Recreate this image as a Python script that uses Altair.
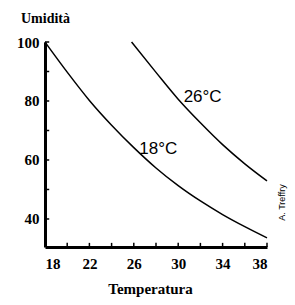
import altair as alt
import pandas as pd

temp_18 = [18, 20, 22, 24, 26, 28, 30, 32, 34, 36, 38]
hum_18 = [100, 89.8, 80.2, 71.8, 64.2, 57.3, 51.3, 46.1, 41.5, 37.4, 33.6]
temp_26 = [25.8, 28, 30, 32, 34, 36, 38]
hum_26 = [100, 89.7, 80.6, 72.6, 65.2, 58.7, 52.9]

x_ticks = [18, 20, 22, 24, 26, 28, 30, 32, 34, 36, 38]
y_ticks = [40, 50, 60, 70, 80, 90, 100]
x_labels = [18, 22, 26, 30, 34, 38]
y_labels = [40, 60, 80, 100]

curve_labels = ["18°C", "26°C"]
label_x = [28.2, 32.2]
label_y = [63.6, 81.3]

credit = "A. Treffry"

X_DOM = [18, 38]
Y_DOM = [30.5, 100]

rows = [{"t": t, "h": h, "s": "18"} for t, h in zip(temp_18, hum_18)]
rows += [{"t": t, "h": h, "s": "26"} for t, h in zip(temp_26, hum_26)]
df = pd.DataFrame(rows)

xs = alt.Scale(domain=X_DOM, nice=False, zero=False)
ys = alt.Scale(domain=Y_DOM, nice=False, zero=False)

serif = "Times New Roman"

x_axis = alt.Axis(values=x_labels, tickSize=0, labelPadding=9, labelFont=serif,
                  labelFontWeight="bold", labelFontSize=15, labelColor="black",
                  domainColor="black", domainWidth=3, grid=False,
                  title="Temperatura", titleFont=serif, titleFontWeight="bold",
                  titleFontSize=15, titleColor="black", titlePadding=10, titleX=105,
                  titleAlign="center")
y_axis = alt.Axis(values=y_labels, tickSize=0, labelPadding=6, labelFont=serif,
                  labelFontWeight="bold", labelFontSize=15, labelColor="black",
                  domainColor="black", domainWidth=3, grid=False,
                  title="Umidità", titleFont=serif, titleFontWeight="bold",
                  titleFontSize=14, titleColor="black", titleAngle=0,
                  titleX=0, titleY=-17, titleAlign="center", titleBaseline="bottom")

lines = alt.Chart(df).mark_line(color="black", strokeWidth=1.5, interpolate="monotone").encode(
    x=alt.X("t:Q", scale=xs, axis=x_axis),
    y=alt.Y("h:Q", scale=ys, axis=y_axis),
    detail="s:N",
)

xt = pd.DataFrame({"t": x_ticks, "y0": [Y_DOM[0]] * len(x_ticks), "y1": [Y_DOM[0] + 1.4] * len(x_ticks)})
xtick = alt.Chart(xt).mark_rule(color="black", strokeWidth=1.5).encode(
    x=alt.X("t:Q", scale=xs), y=alt.Y("y0:Q", scale=ys), y2="y1:Q")

yt = pd.DataFrame({"h": y_ticks, "x0": [X_DOM[0]] * len(y_ticks), "x1": [X_DOM[0] + 0.38] * len(y_ticks)})
ytick = alt.Chart(yt).mark_rule(color="black", strokeWidth=1.5).encode(
    y=alt.Y("h:Q", scale=ys), x=alt.X("x0:Q", scale=xs), x2="x1:Q")

lab = pd.DataFrame({"t": label_x, "h": label_y, "txt": curve_labels})
labels = alt.Chart(lab).mark_text(font="Liberation Sans", fontSize=17, color="black").encode(
    x=alt.X("t:Q", scale=xs), y=alt.Y("h:Q", scale=ys), text="txt:N")

cr = pd.DataFrame({"t": [39.35], "h": [45.6], "txt": [credit]})
credit_mark = alt.Chart(cr).mark_text(font="Liberation Sans", fontSize=9, color="black", angle=270).encode(
    x=alt.X("t:Q", scale=xs), y=alt.Y("h:Q", scale=ys), text="txt:N")

chart = alt.layer(lines, xtick, ytick, labels, credit_mark).properties(
    width=222, height=205,
    autosize=alt.AutoSizeParams(type="none"),
    padding={"left": 45, "top": 42, "right": 28, "bottom": 58},
    background="white",
).configure_view(stroke=None)

chart.save("out.html", embed_options={"renderer": "svg", "actions": False})
